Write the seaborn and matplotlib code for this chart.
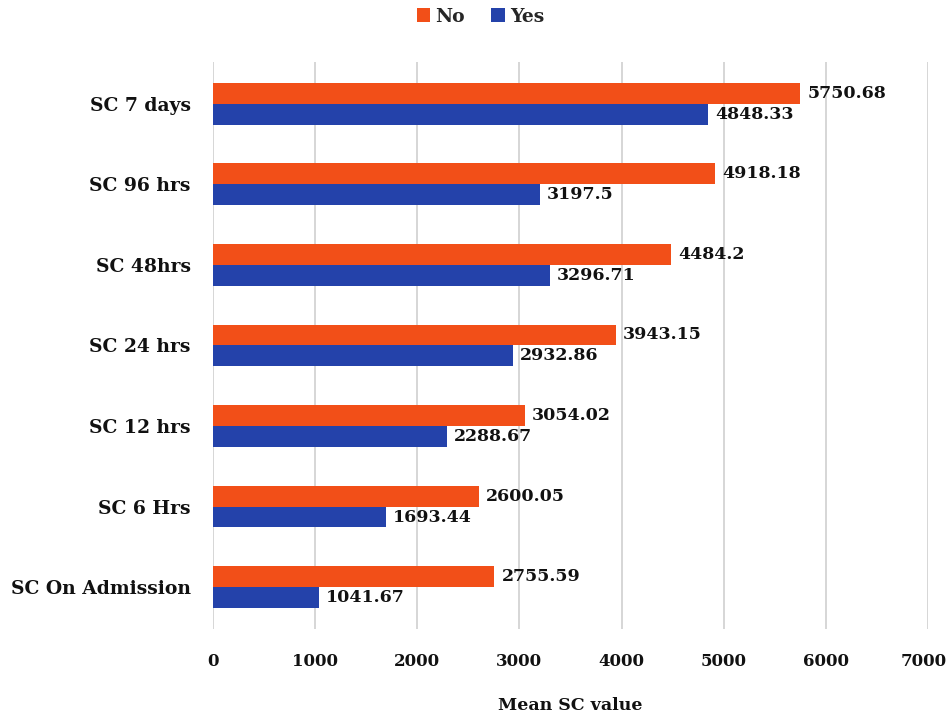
import matplotlib
matplotlib.use("Agg")
import matplotlib.pyplot as plt
import matplotlib.transforms as mtransforms
import seaborn as sns
import pandas as pd

categories = ["SC 7 days", "SC 96 hrs", "SC 48hrs", "SC 24 hrs",
              "SC 12 hrs", "SC 6 Hrs", "SC On Admission"]
no_values = [5750.68, 4918.18, 4484.2, 3943.15, 3054.02, 2600.05, 2755.59]
yes_values = [4848.33, 3197.5, 3296.71, 2932.86, 2288.67, 1693.44, 1041.67]
groups = ["No", "Yes"]
x_ticks = [0, 1000, 2000, 3000, 4000, 5000, 6000, 7000]

df = pd.DataFrame({
    "category": categories * 2,
    "group": ["No"] * len(categories) + ["Yes"] * len(categories),
    "value": no_values + yes_values,
})

sns.set_theme(style="white")
plt.rcParams["font.family"] = ["DejaVu Serif"]
plt.rcParams["font.weight"] = "bold"

palette = {"No": "#F24F18", "Yes": "#2442AA"}

fig = plt.figure(figsize=(9.48, 7.18), dpi=100)
ax = fig.add_axes([0.2247, 0.124, 0.7542, 0.7897])

sns.barplot(data=df, y="category", x="value", hue="group", order=categories,
            hue_order=groups, palette=palette, orient="h", width=0.52,
            gap=0, saturation=1, edgecolor="none", ax=ax, zorder=3)

# value labels just past the end of each bar
for container, grp in zip(ax.containers, groups):
    labels = [f"{v:g}" for v in container.datavalues]
    ax.bar_label(container, labels=labels, padding=5, fontsize=12.5,
                 fontweight="bold", color="#111111")

ax.set_xlim(0, 7000)
ax.set_ylim(6.52, -0.52)
ax.set_xticks(x_ticks)
ax.set_xticklabels([str(t) for t in x_ticks])
ax.xaxis.grid(True, color="#D0D0D0", linewidth=1.2, zorder=0)
ax.yaxis.grid(False)
for s in ax.spines.values():
    s.set_visible(False)
ax.tick_params(axis="x", length=0, pad=17, labelsize=12, labelcolor="#111111")
ax.tick_params(axis="y", length=0, pad=16, labelsize=13.5, labelcolor="#111111")
for lbl in ax.get_xticklabels() + ax.get_yticklabels():
    lbl.set_fontweight("bold")

# keep the rightmost tick label inside the canvas
last = ax.get_xticklabels()[-1]
last.set_transform(last.get_transform() +
                   mtransforms.ScaledTranslation(-4 / 100, 0, fig.dpi_scale_trans))

ax.set_ylabel("")
ax.set_xlabel("Mean SC value", fontsize=12.5, fontweight="bold",
              color="#111111", labelpad=20)

handles, labels = ax.get_legend_handles_labels()
ax.legend_.remove()
fig.legend(handles, labels, loc="center", bbox_to_anchor=(0.507, 0.977), ncol=2,
           frameon=False, handlelength=0.7, handleheight=0.7,
           handletextpad=0.3, columnspacing=1.4,
           prop={"weight": "bold", "size": 13.5})

fig.savefig("out.png", dpi=100, facecolor="white")
